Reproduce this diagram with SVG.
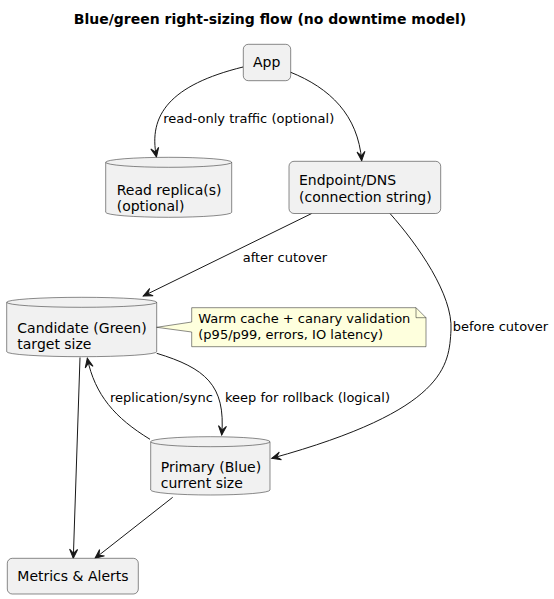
<svg xmlns="http://www.w3.org/2000/svg" width="554" height="599" viewBox="0 0 554 599">
<style>
  .node { fill: #F1F1F1; stroke: #181818; stroke-width: 0.5; }
  .front { fill: none; stroke: #181818; stroke-width: 0.5; }
  .note { fill: #FEFFDD; stroke: #181818; stroke-width: 0.5; }
  .t { font-family: "DejaVu Sans", Verdana, sans-serif; font-size: 14px; fill: #000; }
  .lbl { font-family: "DejaVu Sans", Verdana, sans-serif; font-size: 13px; fill: #000; }
  .title { font-family: "DejaVu Sans", Verdana, sans-serif; font-size: 14px; font-weight: bold; fill: #000; }
  .edge { fill: none; stroke: #181818; stroke-width: 1; marker-end: url(#arr); }
</style>
<defs>
  <marker id="arr" markerUnits="userSpaceOnUse" markerWidth="12" markerHeight="10" viewBox="-10 -5 11 10" refX="0" refY="0" orient="auto">
    <path d="M0,0 L-9,-4 L-5,0 L-9,4 Z" fill="#181818" stroke="#181818" stroke-width="1" stroke-linejoin="miter"/>
  </marker>
</defs>
<rect width="554" height="599" fill="#FFFFFF"/>
<text class="title" x="270" y="24" text-anchor="middle">Blue/green right-sizing flow (no downtime model)</text>

<g id="connectors">
  <path class="edge" d="M243,67 C170,85 148,115 156.5,157"/>
  <path class="edge" d="M290,72 C330,88 358,115 361.7,160.7"/>
  <path class="edge" d="M311.7,213.5 L143.3,296"/>
  <path class="edge" d="M390,213.5 C418,245 453,295 451,330 C449,365 447,410 271.7,458.3"/>
  <path class="edge" d="M80,357.5 L73.3,558.3"/>
  <path class="edge" d="M150,439.3 C115,418 95,395 87.3,358.3"/>
  <path class="edge" d="M156.7,353.3 C205,368 226,385 221.7,435"/>
  <path class="edge" d="M172.7,497.3 L95,558.3"/>
  <text class="lbl" x="163.3" y="123">read-only traffic (optional)</text>
  <text class="lbl" x="242.7" y="262">after cutover</text>
  <text class="lbl" x="452.7" y="331">before cutover</text>
  <text class="lbl" x="110" y="401.5">replication/sync</text>
  <text class="lbl" x="225" y="401.5">keep for rollback (logical)</text>
</g>

<g id="app">
  <rect class="node" x="243.3" y="44.3" width="47.4" height="36.4" rx="5"/>
  <text class="t" x="253" y="67">App</text>
</g>

<g id="replica">
  <path class="node" d="M105.7,162.3 A63,5 0 0 1 231.7,162.3 V212.3 A63,5 0 0 1 105.7,212.3 Z"/>
  <path class="front" d="M105.7,162.3 A63,5 0 0 0 231.7,162.3"/>
  <text class="t" x="116.7" y="195">Read replica(s)</text>
  <text class="t" x="116.7" y="211">(optional)</text>
</g>

<g id="endpoint">
  <rect class="node" x="289" y="161.3" width="151.7" height="52.2" rx="5"/>
  <text class="t" x="299" y="185">Endpoint/DNS</text>
  <text class="t" x="299" y="201.5">(connection string)</text>
</g>

<g id="candidate">
  <path class="node" d="M6.7,302.3 A75,5 0 0 1 156.7,302.3 V351.7 A75,5 0 0 1 6.7,351.7 Z"/>
  <path class="front" d="M6.7,302.3 A75,5 0 0 0 156.7,302.3"/>
  <text class="t" x="17.3" y="333.3">Candidate (Green)</text>
  <text class="t" x="17.3" y="349">target size</text>
</g>

<g id="note">
  <path class="note" d="M191.7,307.7 H416 L426,317.7 V346.7 H191.7 V332 L156.7,327.3 L191.7,322 Z"/>
  <path class="front" d="M416,307.7 V317.7 H426"/>
  <text class="lbl" x="198.3" y="323.3">Warm cache + canary validation</text>
  <text class="lbl" x="198.3" y="339.3">(p95/p99, errors, IO latency)</text>
</g>

<g id="primary">
  <path class="node" d="M150.7,441.7 A59.65,5 0 0 1 270,441.7 V490 A59.65,5 0 0 1 150.7,490 Z"/>
  <path class="front" d="M150.7,441.7 A59.65,5 0 0 0 270,441.7"/>
  <text class="t" x="160.7" y="471.7">Primary (Blue)</text>
  <text class="t" x="160.7" y="488">current size</text>
</g>

<g id="metrics">
  <rect class="node" x="7.3" y="558.3" width="131" height="35.7" rx="5"/>
  <text class="t" x="17.3" y="580.7">Metrics &amp; Alerts</text>
</g>
</svg>
